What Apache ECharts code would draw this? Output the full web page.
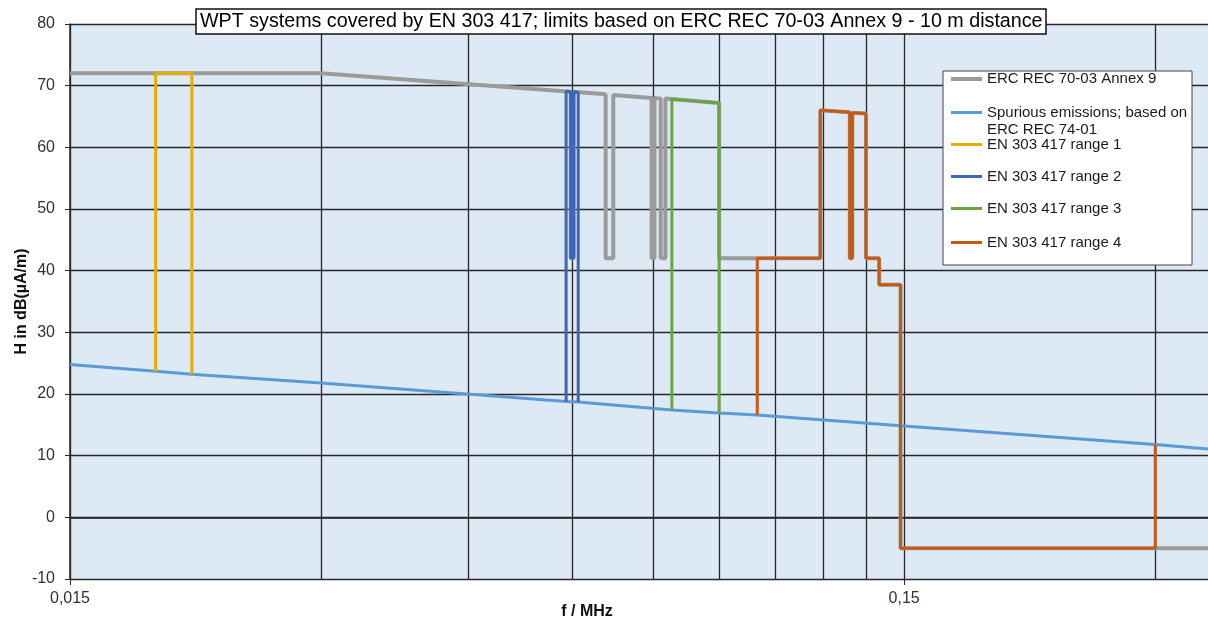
<!doctype html>
<html>
  <head>
    <meta charset="utf-8">
    <title>WPT systems covered by EN 303 417</title>
    <script src="https://cdn.jsdelivr.net/npm/echarts@6/dist/echarts.min.js"></script>
    <style>
      body { margin: 0; background: #fff; }
      #chart { width: 1208px; height: 618px; }
    </style>
  </head>
  <body>
    <div id="chart"></div>

    <script type="text/javascript">
      // frequencies in MHz, levels in dB(uA/m) at 10 m
      var ercFreq = [0.015, 0.03, 0.05975, 0.05975, 0.06025, 0.06025, 0.0658, 0.0658, 0.0672, 0.0672,
                     0.0747, 0.0747, 0.0753, 0.0753, 0.0766, 0.0766, 0.0776, 0.0776, 0.09, 0.09,
                     0.119, 0.119, 0.1291, 0.1291, 0.13, 0.13, 0.135, 0.135, 0.14, 0.14, 0.1485, 0.1485, 0.347];
      var ercLevel = [72, 72, 69.0, 42, 42, 69.0, 68.6, 42, 42, 68.5,
                      68.0, 42, 42, 68.0, 67.9, 42, 42, 67.9, 67.2, 42,
                      42, 66.0, 65.7, 42, 42, 65.6, 65.5, 42, 42, 37.7, 37.7, -5, -5];

      var spurFreq = [0.015, 0.019, 0.021, 0.03, 0.059, 0.061, 0.079, 0.09, 0.1, 0.15, 0.3, 0.347];
      var spurLevel = [24.8, 23.7, 23.2, 21.8, 18.8, 18.7, 17.4, 16.9, 16.6, 14.8, 11.8, 11.1];

      var range1Freq = [0.019, 0.019, 0.021, 0.021];
      var range1Level = [23.7, 72, 72, 23.2];

      var range2Freq = [0.059, 0.059, 0.05975, 0.05975, 0.06025, 0.06025, 0.061, 0.061];
      var range2Level = [18.8, 69.1, 69.0, 42, 42, 69.0, 68.9, 18.7];

      var range3Freq = [0.079, 0.079, 0.09, 0.09];
      var range3Level = [17.4, 67.8, 67.2, 16.9];

      var range4Freq = [0.1, 0.1, 0.119, 0.119, 0.1291, 0.1291, 0.13, 0.13, 0.135, 0.135, 0.14, 0.14, 0.1485, 0.1485, 0.3, 0.3];
      var range4Level = [16.6, 42, 42, 66.0, 65.7, 42, 42, 65.6, 65.5, 42, 42, 37.7, 37.7, -5, -5, 11.8];

      var seriesNames = ['ERC REC 70-03 Annex 9', 'Spurious emissions; based on ERC REC 74-01',
                         'EN 303 417 range 1', 'EN 303 417 range 2', 'EN 303 417 range 3', 'EN 303 417 range 4'];

      // axis ticks
      var xGridValues = [0.015, 0.03, 0.045, 0.06, 0.075, 0.09, 0.105, 0.12, 0.135, 0.15, 0.3];
      var xLabelValues = [0.015, 0.15];
      var xMin = 0.015, xMax = 0.347;
      var yMin = -10, yMax = 80, yStep = 10;

      var font = "'Liberation Sans', Arial, sans-serif";
      var colors = ['#9b9b9b', '#5b9bd5', '#e6ad00', '#3d66b4', '#6aa544', '#c65a12'];
      var widths = [4, 3, 3, 3, 3, 3];
      var gridColor = '#262626';

      function pairs(xs, ys) {
        return xs.map(function (x, i) { return [x, ys[i]]; });
      }
      var seriesData = [
        pairs(ercFreq, ercLevel),
        pairs(spurFreq, spurLevel),
        pairs(range1Freq, range1Level),
        pairs(range2Freq, range2Level),
        pairs(range3Freq, range3Level),
        pairs(range4Freq, range4Level)
      ];

      // centre of the first text line of each legend entry
      var legendRows = [79, 112.5, 144.5, 176.5, 208.5, 242.5];

      var myChart = echarts.init(document.getElementById('chart'));

      var option = {
        animation: false,
        textStyle: { fontFamily: font },
        title: {
          text: 'WPT systems covered by EN 303 417; limits based on ERC REC 70-03 Annex 9 - 10 m distance',
          left: 196,
          top: 9,
          padding: [3, 4, 2, 4],
          borderColor: '#111',
          borderWidth: 1.5,
          backgroundColor: '#fff',
          textStyle: { fontSize: 19.7, fontWeight: 'normal', color: '#000', fontFamily: font }
        },
        grid: {
          left: 70,
          right: 0,
          top: 24,
          bottom: 39,
          outerBoundsMode: 'none',
          containLabel: false,
          show: true,
          backgroundColor: '#dee9f6',
          borderWidth: 0
        },
        xAxis: [
          {
            type: 'log',
            min: xMin,
            max: xMax,
            name: 'f / MHz',
            nameLocation: 'middle',
            nameGap: 25,
            nameMoveOverlap: false,
            nameTextStyle: { fontSize: 16, fontWeight: 'bold', color: '#111', padding: [0, 104, 0, 0] },
            axisLine: { show: true, lineStyle: { color: gridColor, width: 1.5 } },
            axisTick: { show: false, customValues: xGridValues },
            axisLabel: { show: false },
            splitLine: { show: true, lineStyle: { color: gridColor, width: 1.3 } }
          },
          {
            type: 'log',
            min: xMin,
            max: xMax,
            position: 'bottom',
            axisLine: { show: false },
            axisTick: { show: true, length: 6, customValues: xLabelValues, lineStyle: { color: gridColor } },
            axisLabel: {
              customValues: xLabelValues,
              fontSize: 16,
              color: '#2b323b',
              margin: 12,
              formatter: function (v) { return String(+(+v).toPrecision(6)).replace('.', ','); }
            },
            splitLine: { show: false }
          }
        ],
        yAxis: {
          type: 'value',
          min: yMin,
          max: yMax,
          interval: yStep,
          name: 'H in dB(µA/m)',
          nameLocation: 'middle',
          nameGap: 40,
          nameMoveOverlap: false,
          nameTextStyle: { fontSize: 16, fontWeight: 'bold', color: '#111' },
          axisLine: { show: true, lineStyle: { color: gridColor, width: 1.5 } },
          axisTick: { show: true, length: 5, lineStyle: { color: gridColor } },
          axisLabel: { fontSize: 16, color: '#2b323b', margin: 15 },
          splitLine: { show: true, lineStyle: { color: gridColor, width: 1.3 } }
        },
        graphic: [
          {
            type: 'rect',
            z: 50,
            shape: { x: 943, y: 71, width: 249, height: 194 },
            style: { fill: '#fff', stroke: '#444', lineWidth: 1 }
          }
        ],
        legend: seriesNames.map(function (name, i) {
          var lg = {
            data: [name],
            orient: 'vertical',
            left: 951,
            top: legendRows[i] - 8.5,
            padding: 0,
            icon: 'rect',
            itemWidth: 31,
            itemHeight: widths[i],
            itemGap: 0,
            z: 60,
            textStyle: { fontSize: 15, color: '#1a1a1a', lineHeight: 17, fontFamily: font }
          };
          if (i === 1) {
            // two-line entry: empty first line keeps the icon on the "Spurious" line
            lg.top = legendRows[i] - 25.5;
            lg.formatter = function (n) { return '\n' + n.replace('based on ', 'based on\n'); };
          }
          return lg;
        }),
        series: seriesNames.map(function (name, i) {
          return {
            name: name,
            type: 'line',
            xAxisIndex: 0,
            symbol: 'none',
            data: seriesData[i],
            lineStyle: { color: colors[i], width: widths[i] },
            itemStyle: { color: colors[i] }
          };
        })
      };

      myChart.setOption(option);
    </script>
  </body>
</html>
